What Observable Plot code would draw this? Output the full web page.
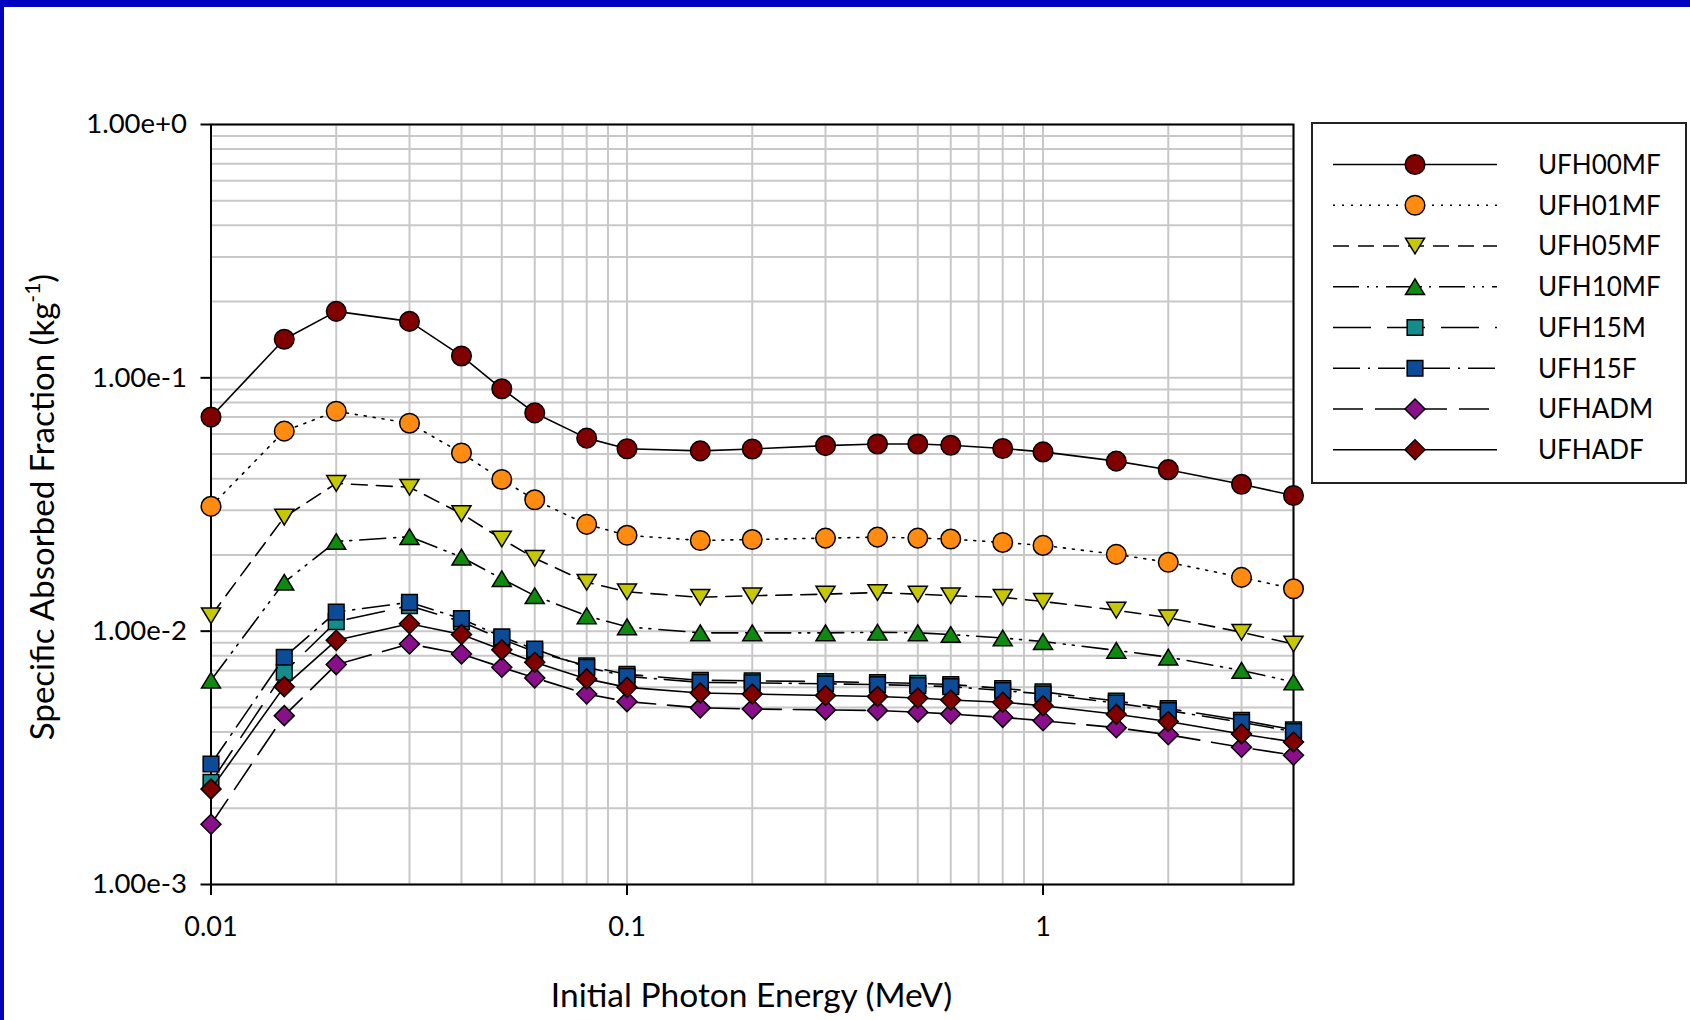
<!DOCTYPE html>
<html>
<head>
<meta charset="utf-8">
<script src="https://cdn.jsdelivr.net/npm/d3@7"></script>
<script src="https://cdn.jsdelivr.net/npm/@observablehq/plot@0.6"></script>
<style>
html, body { margin: 0; padding: 0; background: #fff; }
#page { position: relative; width: 1690px; height: 1020px; background: #fff; overflow: hidden; font-family: Lato, "Open Sans", sans-serif; }
#chart { position: absolute; left: 0; top: 0; }
#legend { position: absolute; left: 0; top: 0; }
#topbar { position: absolute; left: 0; top: 0; width: 1690px; height: 7px; background: #0000c0; }
#leftbar { position: absolute; left: 0; top: 0; width: 4px; height: 1020px; background: #0000c0; }
</style>
</head>
<body>
<div id="page">
  <div id="chart"></div>
  <svg id="legend" width="1690" height="1020"></svg>
  <div id="topbar"></div>
  <div id="leftbar"></div>
</div>
<script>
// ---------------- data ----------------
const energy = [0.01, 0.015, 0.02, 0.03, 0.04, 0.05, 0.06, 0.08, 0.1, 0.15, 0.2, 0.3, 0.4, 0.5, 0.6, 0.8, 1, 1.5, 2, 3, 4];

const UFH00MF = [0.0700, 0.142, 0.183, 0.167, 0.122, 0.0905, 0.0727, 0.0578, 0.0525, 0.0515, 0.0524, 0.0540, 0.0548, 0.0548, 0.0542, 0.0526, 0.0510, 0.0469, 0.0434, 0.0380, 0.0343];
const UFH01MF = [0.0311, 0.0616, 0.0738, 0.0662, 0.0505, 0.0397, 0.0330, 0.0264, 0.0239, 0.0228, 0.0230, 0.0233, 0.0235, 0.0233, 0.0231, 0.0224, 0.0218, 0.0201, 0.0187, 0.0163, 0.0147];
const UFH05MF = [0.0115, 0.0282, 0.0383, 0.0370, 0.0291, 0.0231, 0.0194, 0.0156, 0.0143, 0.0136, 0.0138, 0.0140, 0.0142, 0.0140, 0.0138, 0.0136, 0.0131, 0.0121, 0.0113, 0.0099, 0.0089];
const UFH10MF = [0.0064, 0.0156, 0.0226, 0.0236, 0.0196, 0.0161, 0.0138, 0.0115, 0.0104, 0.00985, 0.00985, 0.00985, 0.0099, 0.00985, 0.0097, 0.0094, 0.0091, 0.0084, 0.0079, 0.0070, 0.0063];
const UFH15M  = [0.00253, 0.00689, 0.0109, 0.0126, 0.0109, 0.0093, 0.0083, 0.0073, 0.00675, 0.0064, 0.00637, 0.00632, 0.00627, 0.00622, 0.00616, 0.00594, 0.00576, 0.0053, 0.00495, 0.00445, 0.00408];
const UFH15F  = [0.00299, 0.00789, 0.0119, 0.0130, 0.0112, 0.0095, 0.0085, 0.0072, 0.00663, 0.00628, 0.00625, 0.0062, 0.00615, 0.0061, 0.00604, 0.00583, 0.00565, 0.0052, 0.00486, 0.00437, 0.00401];
const UFHADM  = [0.00173, 0.00464, 0.00738, 0.0089, 0.00813, 0.0072, 0.00654, 0.00565, 0.00527, 0.00498, 0.00493, 0.00489, 0.00486, 0.00479, 0.00471, 0.00457, 0.00443, 0.00416, 0.0039, 0.00348, 0.00324];
const UFHADF  = [0.00238, 0.00604, 0.0092, 0.0107, 0.0097, 0.00844, 0.00754, 0.00648, 0.0060, 0.0057, 0.00565, 0.00557, 0.00552, 0.00545, 0.00535, 0.00524, 0.00508, 0.0047, 0.0044, 0.00393, 0.00365];

const seriesNames  = ["UFH00MF", "UFH01MF", "UFH05MF", "UFH10MF", "UFH15M", "UFH15F", "UFHADM", "UFHADF"];
const seriesValues = [UFH00MF, UFH01MF, UFH05MF, UFH10MF, UFH15M, UFH15F, UFHADM, UFHADF];
const seriesFill   = ["#800000", "#ff8c10", "#c8c800", "#0e8a0e", "#138c8c", "#0b4b97", "#8a0f8a", "#800000"];
const seriesSymbol = ["circle", "circle", "triangleDown", "triangleUp", "square", "square", "diamond", "diamond"];
const seriesDash   = [null, "2,7", "16,9", "26,8,2,7,2,8", "38,16", "27,8,2,8", "30,12", null];

const xTicks = [0.01, 0.1, 1];
const yTicks = [0.001, 0.01, 0.1, 1];
const xGrid = [0.01, 0.02, 0.03, 0.04, 0.05, 0.06, 0.07, 0.08, 0.09,
               0.1, 0.2, 0.3, 0.4, 0.5, 0.6, 0.7, 0.8, 0.9,
               1, 2, 3, 4];
const yGrid = [0.001, 0.002, 0.003, 0.004, 0.005, 0.006, 0.007, 0.008, 0.009,
               0.01, 0.02, 0.03, 0.04, 0.05, 0.06, 0.07, 0.08, 0.09,
               0.1, 0.2, 0.3, 0.4, 0.5, 0.6, 0.7, 0.8, 0.9, 1];

// ---------------- marker shapes ----------------
const symbols = {
  circle: { draw(ctx, size) { const r = Math.sqrt(size / Math.PI); ctx.moveTo(r, 0); ctx.arc(0, 0, r, 0, 2 * Math.PI); } },
  triangleDown: { draw(ctx, size) { const r = Math.sqrt(size / Math.PI); const w = r * 0.97, h = r * 0.8;
    ctx.moveTo(-w, -h); ctx.lineTo(w, -h); ctx.lineTo(0, h); ctx.closePath(); } },
  triangleUp: { draw(ctx, size) { const r = Math.sqrt(size / Math.PI); const w = r * 0.97, h = r * 0.8;
    ctx.moveTo(-w, h); ctx.lineTo(w, h); ctx.lineTo(0, -h); ctx.closePath(); } },
  square: { draw(ctx, size) { const r = Math.sqrt(size / Math.PI) * 0.8; ctx.rect(-r, -r, 2 * r, 2 * r); } },
  diamond: { draw(ctx, size) { const r = Math.sqrt(size / Math.PI) * 1.02;
    ctx.moveTo(0, -r); ctx.lineTo(r, 0); ctx.lineTo(0, r); ctx.lineTo(-r, 0); ctx.closePath(); } }
};
const R = 9.8;

// ---------------- chart ----------------
const seriesMarks = [];
seriesNames.forEach((name, si) => {
  const rows = energy.map((e, i) => ({ series: name, x: e, y: seriesValues[si][i] }));
  seriesMarks.push(Plot.line(rows, {
    x: "x", y: "y", stroke: "black", strokeWidth: 1.6,
    strokeDasharray: seriesDash[si] || undefined
  }));
  seriesMarks.push(Plot.dot(rows, {
    x: "x", y: "y", r: R, symbol: symbols[seriesSymbol[si]],
    fill: seriesFill[si], stroke: "black", strokeWidth: 1.5
  }));
});

const svg = Plot.plot({
  width: 1690,
  height: 1020,
  marginLeft: 210.5,
  marginRight: 397,
  marginTop: 124,
  marginBottom: 136,
  style: { fontFamily: "Lato, 'Open Sans', sans-serif", color: "black", background: "transparent" },
  x: { type: "log", domain: [0.01, 4] },
  y: { type: "log", domain: [0.001, 1] },
  marks: [
    Plot.gridX(xGrid, { stroke: "#c8c8c8", strokeOpacity: 1, strokeWidth: 2 }),
    Plot.gridY(yGrid, { stroke: "#c8c8c8", strokeOpacity: 1, strokeWidth: 2 }),
    Plot.frame({ stroke: "black", strokeWidth: 2 }),
    Plot.axisX({ ticks: xTicks, tickFormat: d => String(d), tickSize: 11, tickPadding: 21,
      fontSize: 27, label: null, strokeWidth: 2 }),
    Plot.axisY({ ticks: yTicks, tickFormat: d3.format(".2e"), tickSize: 10, tickPadding: 14,
      fontSize: 27.5, label: null, strokeWidth: 2 }),
    ...seriesMarks
  ]
});
document.getElementById("chart").appendChild(svg);

// axis titles
const s = d3.select(svg);
s.append("text")
  .attr("x", 751.5).attr("y", 1007)
  .attr("text-anchor", "middle")
  .attr("fill", "black")
  .style("font-family", "Lato, 'Open Sans', sans-serif")
  .style("font-size", "33.5px")
  .text("Initial Photon Energy (MeV)");

const yl = s.append("text")
  .attr("transform", "translate(54,507) rotate(-90)")
  .attr("text-anchor", "middle")
  .attr("fill", "black")
  .style("font-family", "Lato, 'Open Sans', sans-serif")
  .style("font-size", "33px");
yl.append("tspan").text("Specific Absorbed Fraction (kg");
yl.append("tspan").attr("dy", -14).style("font-size", "21px").text("-1");
yl.append("tspan").attr("dy", 14).text(")");

// ---------------- legend ----------------
const lg = d3.select("#legend");
lg.append("rect")
  .attr("x", 1312).attr("y", 123).attr("width", 374).attr("height", 360)
  .attr("fill", "white").attr("stroke", "#222").attr("stroke-width", 2);
seriesNames.forEach((name, i) => {
  const cy = 164.5 + i * 40.75;
  lg.append("line")
    .attr("x1", 1333).attr("x2", 1497).attr("y1", cy).attr("y2", cy)
    .attr("stroke", "black").attr("stroke-width", 1.6)
    .attr("stroke-dasharray", seriesDash[i] || null);
  lg.append("path")
    .attr("transform", `translate(1415,${cy})`)
    .attr("d", d3.symbol(symbols[seriesSymbol[i]], Math.PI * R * R)())
    .attr("fill", seriesFill[i]).attr("stroke", "black").attr("stroke-width", 1.5);
  lg.append("text")
    .attr("x", 1538).attr("y", cy).attr("dy", "0.36em")
    .attr("fill", "black")
    .style("font-family", "Lato, 'Open Sans', sans-serif")
    .style("font-size", "26px")
    .text(name);
});
</script>
</body>
</html>
